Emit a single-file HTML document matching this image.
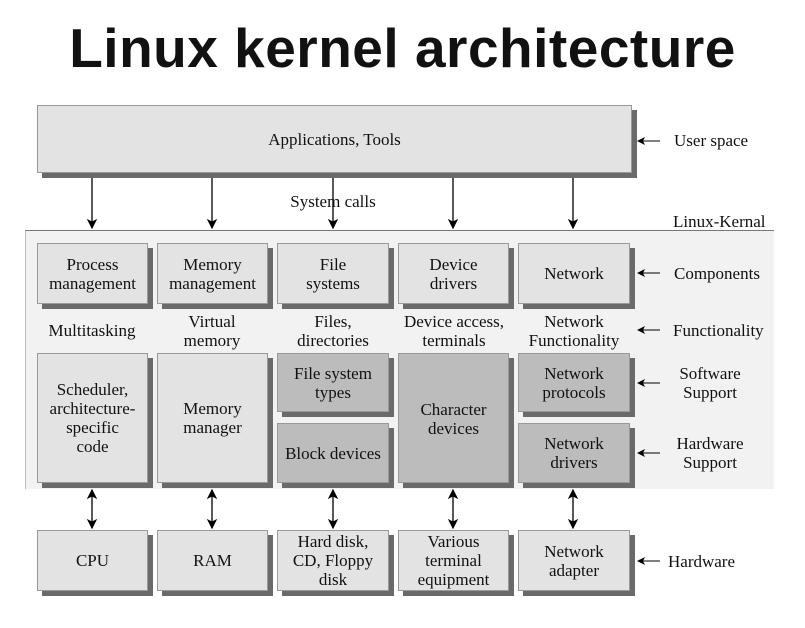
<!DOCTYPE html>
<html><head><style>
body{margin:0;width:805px;height:628px;background:#fff;position:relative;overflow:hidden;font-family:"Liberation Serif",serif;color:#111}
.t{position:absolute;left:0;width:805px;top:16px;text-align:center;font:bold 55px "Liberation Sans",sans-serif;letter-spacing:0.5px}
.b{position:absolute;display:flex;align-items:center;justify-content:center;text-align:center;font-size:17px;line-height:19px;border:1px solid #999;box-shadow:5px 5px 0 #6a6a6a;box-sizing:border-box;background:#e3e3e3}
.d{background:#bcbcbc}
.l{position:absolute;font-size:17px;line-height:19px;text-align:center}
.r{position:absolute;font-size:17px;line-height:19px;text-align:center;width:120px}
</style></head><body>
<div class="t">Linux kernel architecture</div>
<div style="position:absolute;left:25px;top:230px;width:748px;height:258px;background:#f2f2f2;border-top:1px solid #777;border-left:1px solid #bbb"></div>
<div class="b" style="left:37px;top:105px;width:595px;height:68px">Applications, Tools</div>
<svg style="position:absolute;left:0;top:0" width="805" height="628">
<defs><marker id="a" markerWidth="8" markerHeight="10" refX="7" refY="5" orient="auto"><path d="M0,1 L8,5 L0,9 L2,5z" fill="#000"/></marker>
<marker id="s" markerWidth="8" markerHeight="10" refX="7" refY="5" orient="auto-start-reverse"><path d="M0,1 L8,5 L0,9 L2,5z" fill="#000"/></marker></defs>
<g stroke="#000" stroke-width="1.3" marker-end="url(#a)">
<line x1="92" y1="178" x2="92" y2="228"/>
<line x1="212" y1="178" x2="212" y2="228"/>
<line x1="333" y1="178" x2="333" y2="228"/>
<line x1="453" y1="178" x2="453" y2="228"/>
<line x1="573" y1="178" x2="573" y2="228"/>
</g>
<g stroke="#000" stroke-width="1.3" marker-start="url(#s)" marker-end="url(#s)">
<line x1="92" y1="490" x2="92" y2="528"/>
<line x1="212" y1="490" x2="212" y2="528"/>
<line x1="333" y1="490" x2="333" y2="528"/>
<line x1="453" y1="490" x2="453" y2="528"/>
<line x1="573" y1="490" x2="573" y2="528"/>
</g>
<g stroke="#000" stroke-width="1" marker-end="url(#a)">
<line x1="660" y1="141" x2="638" y2="141"/>
<line x1="660" y1="273" x2="638" y2="273"/>
<line x1="660" y1="330" x2="638" y2="330"/>
<line x1="660" y1="383" x2="638" y2="383"/>
<line x1="660" y1="453" x2="638" y2="453"/>
<line x1="660" y1="561" x2="638" y2="561"/>
</g>
</svg>
<div class="l" style="left:283px;top:192px;width:100px">System calls</div>
<div class="r" style="left:674px;top:131px;text-align:left">User space</div>
<div class="r" style="left:673px;top:212px;text-align:left">Linux-Kernal</div>
<div class="r" style="left:674px;top:264px;text-align:left">Components</div>
<div class="r" style="left:673px;top:321px;text-align:left">Functionality</div>
<div class="r" style="left:650px;top:364px">Software<br>Support</div>
<div class="r" style="left:650px;top:434px">Hardware<br>Support</div>
<div class="r" style="left:668px;top:552px;text-align:left">Hardware</div>

<div class="b" style="left:37px;top:243px;width:111px;height:61px">Process<br>management</div>
<div class="b" style="left:157px;top:243px;width:111px;height:61px">Memory<br>management</div>
<div class="b" style="left:277px;top:243px;width:112px;height:61px">File<br>systems</div>
<div class="b" style="left:398px;top:243px;width:111px;height:61px">Device<br>drivers</div>
<div class="b" style="left:518px;top:243px;width:112px;height:61px">Network</div>

<div class="l" style="left:32px;top:321px;width:120px">Multitasking</div>
<div class="l" style="left:152px;top:312px;width:120px">Virtual<br>memory</div>
<div class="l" style="left:273px;top:312px;width:120px">Files,<br>directories</div>
<div class="l" style="left:388px;top:312px;width:132px">Device access,<br>terminals</div>
<div class="l" style="left:508px;top:312px;width:132px">Network<br>Functionality</div>

<div class="b" style="left:37px;top:353px;width:111px;height:130px">Scheduler,<br>architecture-<br>specific<br>code</div>
<div class="b" style="left:157px;top:353px;width:111px;height:130px">Memory<br>manager</div>
<div class="b d" style="left:277px;top:353px;width:112px;height:59px">File system<br>types</div>
<div class="b d" style="left:277px;top:423px;width:112px;height:60px">Block devices</div>
<div class="b d" style="left:398px;top:353px;width:111px;height:130px;align-items:flex-start;padding-top:46px">Character<br>devices</div>
<div class="b d" style="left:518px;top:353px;width:112px;height:59px">Network<br>protocols</div>
<div class="b d" style="left:518px;top:423px;width:112px;height:60px">Network<br>drivers</div>

<div class="b" style="left:37px;top:530px;width:111px;height:61px">CPU</div>
<div class="b" style="left:157px;top:530px;width:111px;height:61px">RAM</div>
<div class="b" style="left:277px;top:530px;width:112px;height:61px">Hard disk,<br>CD, Floppy<br>disk</div>
<div class="b" style="left:398px;top:530px;width:111px;height:61px">Various<br>terminal<br>equipment</div>
<div class="b" style="left:518px;top:530px;width:112px;height:61px">Network<br>adapter</div>
</body></html>
